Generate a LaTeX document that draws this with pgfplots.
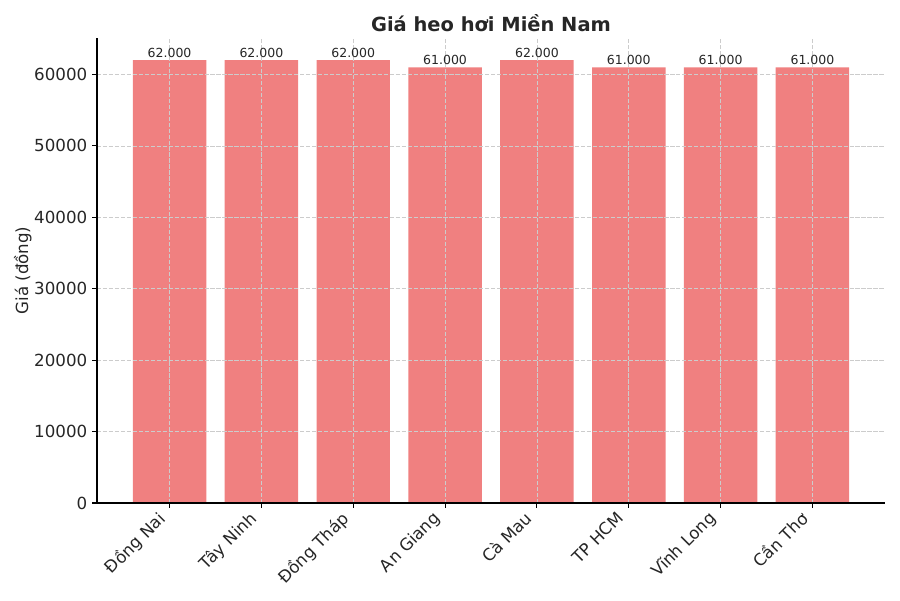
\documentclass[border=0pt]{standalone}
\usepackage{fontspec}
\setmainfont{DejaVu Sans}
\usepackage{pgfplots}
\pgfplotsset{compat=1.18}
\definecolor{barc}{HTML}{F08080}
\definecolor{txt}{HTML}{262626}
\definecolor{gridc}{HTML}{CCCCCC}
\begin{document}
\begin{tikzpicture}
\useasboundingbox (0,0) rectangle (648pt,432pt);
\begin{axis}[
  at={(69.84pt,69.84pt)}, anchor=south west,
  scale only axis, width=567.36pt, height=334.8pt,
  xmin=-0.79, xmax=7.79, ymin=0, ymax=65100,
  axis x line*=bottom, axis y line*=left,
  axis line style={-, black, line width=0.8pt},
  tick align=outside, major tick length=3.5pt,
  tick style={black, line width=0.8pt},
  xtick={0,...,7},
  xticklabels={Đồng Nai,Tây Ninh,Đồng Tháp,An Giang,Cà Mau,TP HCM,Vĩnh Long,Cần Thơ},
  xticklabel style={xshift=-9.5pt, yshift=0pt, rotate=45, anchor=north east, font=\fontsize{12}{14}\selectfont, text=txt, inner sep=1pt},
  ytick={0,10000,...,60000},
  scaled y ticks=false,
  yticklabel style={font=\fontsize{12}{14}\selectfont, text=txt, /pgf/number format/1000 sep={}},
  /pgf/number format/assume math mode=true,
  ylabel={Giá (đồng)},
  ylabel shift=-5pt,
  ylabel style={font=\fontsize{12}{14}\selectfont, text=txt},
  title={\textbf{Giá heo hơi Miền Nam}},
  title style={font=\fontsize{14}{16}\selectfont, text=txt, yshift=-5pt},
  grid=major,
  major grid style={dash pattern=on 3pt off 1.3pt, color=gridc, line width=0.5pt},
  axis on top,
  ybar, bar width=0.8, bar shift=0pt,
  nodes near coords,
  every node near coord/.append style={font=\fontsize{9}{10}\selectfont, text=txt, /pgf/number format/1000 sep={.}, inner sep=1.5pt},
]
\addplot[fill=barc, draw=none] coordinates {
(0,62000) (1,62000) (2,62000) (3,61000) (4,62000) (5,61000) (6,61000) (7,61000)};
\end{axis}
\end{tikzpicture}
\end{document}
